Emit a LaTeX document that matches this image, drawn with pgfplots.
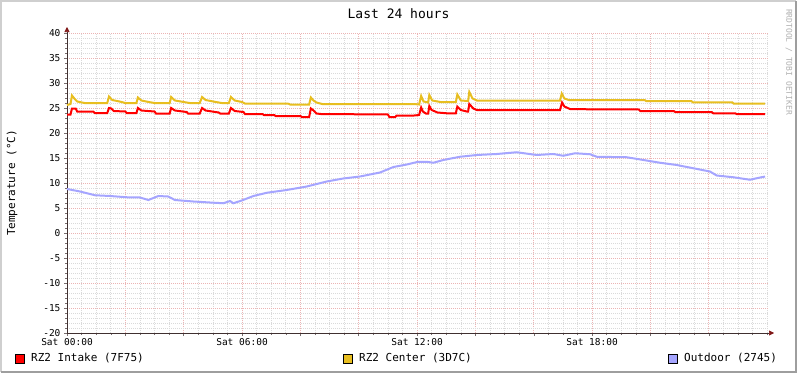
\documentclass[border=0pt]{standalone}
\usepackage{pgfplots}
\pgfplotsset{compat=1.18}
\usepackage{fontspec}
\setmainfont{DejaVu Sans Mono}
\usetikzlibrary{arrows.meta}
\definecolor{rrdred}{RGB}{255,0,0}
\definecolor{rrdyel}{RGB}{232,190,32}
\definecolor{rrdblue}{RGB}{165,165,255}
\definecolor{mgrid}{RGB}{236,180,180}
\definecolor{mingrid}{RGB}{218,218,218}
\definecolor{axcol}{RGB}{64,48,48}
\definecolor{arrcol}{RGB}{128,24,24}
\definecolor{shadea}{RGB}{207,207,207}
\definecolor{shadeb}{RGB}{158,158,158}
\begin{document}
\begin{tikzpicture}[x=1pt,y=1pt]
\fill[white] (-67,-40) rectangle (730,333);
\path[use as bounding box] (-67,-40) rectangle (730,333);
\begin{axis}[at={(0,0)}, anchor=south west, scale only axis,
  width=701pt, height=300pt,
  xmin=0, xmax=24.03, ymin=-20, ymax=40,
  axis x line=bottom, axis y line=left,
  axis line style={draw=axcol, line width=0.6pt},
  x axis line style={-{Triangle[length=5pt,width=5pt,color=arrcol]}, shorten >=-6pt},
  y axis line style={-{Triangle[length=5pt,width=5pt,color=arrcol]}, shorten >=-6pt},
  xtick={0,2,...,22},
  xticklabels={Sat 00:00,,,Sat 06:00,,,Sat 12:00,,,Sat 18:00,,},
  minor xtick={0,0.5,...,24},
  ytick={-20,-15,...,40},
  minor ytick={-20,-19,...,40},
  grid=both,
  major grid style={draw=mgrid, dash pattern=on 1pt off 1pt, line width=0.6pt},
  minor grid style={draw=mingrid, dash pattern=on 1pt off 1pt, line width=0.6pt},
  tick align=outside,
  major tick length=3pt, minor tick length=2pt,
  tick style={draw=axcol!70, line width=0.5pt},
  /pgf/number format/assume math mode=true,
  ticklabel style={font=\fontsize{9.5}{10}\selectfont},
  xticklabel style={yshift=1pt},
  clip=false,
]
\addplot[rrdred, line width=2pt, line join=miter] coordinates {
(0,23.7) (0.12,23.7) (0.17,24.9) (0.3,24.9) (0.35,24.3) (0.9,24.3) (0.95,24.0) (1.38,24.0)
(1.44,25.0) (1.52,24.9) (1.6,24.4) (2.0,24.3) (2.05,24.0) (2.38,24.0) (2.43,25.0) (2.55,24.5)
(3.0,24.3) (3.05,23.9) (3.52,23.9) (3.57,25.0) (3.7,24.5) (4.1,24.2) (4.15,23.9) (4.55,23.9)
(4.63,25.0) (4.75,24.5) (5.2,24.1) (5.25,23.9) (5.55,23.9) (5.62,25.0) (5.75,24.4) (6.05,24.2)
(6.1,23.8) (6.7,23.8) (6.75,23.6) (7.1,23.6) (7.15,23.4) (8.0,23.4) (8.05,23.2) (8.3,23.2)
(8.36,24.9) (8.45,24.5) (8.55,23.9) (8.7,23.8) (11.0,23.7) (11.05,23.2) (11.25,23.2) (11.3,23.5)
(11.9,23.5) (12.07,23.6) (12.14,25.1) (12.2,24.3) (12.3,23.9) (12.38,23.9) (12.42,25.4) (12.5,24.6)
(12.7,24.1) (13.0,23.95) (13.33,23.95) (13.38,25.3) (13.5,24.6) (13.7,24.3) (13.75,24.3) (13.79,25.8)
(13.93,24.9) (14.05,24.6) (16.9,24.6) (16.97,26.1) (17.05,25.3) (17.24,24.8) (17.8,24.75) (19.6,24.7)
(19.65,24.4) (20.8,24.4) (20.85,24.2) (22.1,24.2) (22.15,23.95) (22.9,23.95) (22.95,23.8) (23.93,23.8)
};
\addplot[rrdyel, line width=2pt, line join=miter] coordinates {
(0,25.6) (0.12,25.8) (0.17,27.5) (0.25,26.9) (0.35,26.3) (0.6,26.0) (1.38,26.0) (1.44,27.3)
(1.55,26.6) (1.8,26.3) (2.0,26.0) (2.38,26.0) (2.43,27.1) (2.55,26.5) (2.8,26.2) (3.0,26.0)
(3.52,26.0) (3.57,27.2) (3.7,26.5) (4.0,26.2) (4.2,26.0) (4.55,26.0) (4.63,27.2) (4.75,26.6)
(5.1,26.2) (5.3,26.0) (5.55,26.0) (5.62,27.2) (5.75,26.5) (6.0,26.2) (6.1,25.9) (7.6,25.85)
(7.65,25.7) (8.3,25.7) (8.36,27.1) (8.45,26.5) (8.55,26.1) (8.75,25.8) (11.9,25.8) (12.07,25.7)
(12.14,27.4) (12.22,26.3) (12.38,26.1) (12.42,27.6) (12.52,26.5) (12.8,26.2) (13.33,26.2) (13.38,27.7)
(13.5,26.5) (13.75,26.4) (13.79,28.2) (13.9,26.9) (14.05,26.5) (16.9,26.5) (16.96,27.9) (17.05,26.9)
(17.2,26.6) (19.8,26.6) (19.85,26.4) (21.4,26.4) (21.45,26.15) (22.8,26.15) (22.85,25.9) (23.93,25.9)
};
\addplot[rrdblue, line width=2pt] coordinates {
(0,8.8) (0.45,8.3) (0.96,7.55) (1.47,7.4) (2.05,7.15) (2.5,7.1) (2.79,6.6) (3.13,7.4)
(3.47,7.3) (3.70,6.6) (4.33,6.3) (4.90,6.1) (5.36,5.95) (5.59,6.4) (5.70,5.95) (5.99,6.5)
(6.39,7.4) (6.85,8.05) (7.53,8.6) (8.22,9.3) (8.90,10.3) (9.47,10.9) (10.04,11.3) (10.73,12.1)
(11.19,13.2) (11.65,13.7) (12.04,14.25) (12.33,14.25) (12.56,14.05) (12.90,14.6) (13.47,15.25) (14.05,15.6)
(14.73,15.8) (15.42,16.15) (16.10,15.6) (16.67,15.8) (17.01,15.45) (17.42,15.95) (17.93,15.75) (18.16,15.25)
(19.19,15.15) (19.76,14.6) (20.33,14.05) (20.90,13.6) (21.47,12.95) (22.04,12.3) (22.27,11.5) (22.84,11.15)
(23.41,10.65) (23.64,10.95) (23.93,11.3)
};
\end{axis}
% title, labels, legend, watermark (pixel (px,py) -> (px-67, 333-py))
\node[font=\fontsize{13}{14}\selectfont] at (331.5,319) {Last 24 hours};
\node[rotate=90, font=\fontsize{11}{12}\selectfont] at (-55,150) {Temperature (°C)};
\node[rotate=-90, font=\fontsize{8}{9}\selectfont, text=shadeb!80] at (722,271) {RRDTOOL / TOBI OETIKER};
\draw[fill=rrdred, draw=black, line width=0.8pt] (-52,-30) rectangle (-43,-21);
\node[anchor=west, inner sep=0pt, font=\fontsize{11}{12}\selectfont] at (-36,-25.5) {RZ2 Intake (7F75)};
\draw[fill=rrdyel, draw=black, line width=0.8pt] (276,-30) rectangle (285,-21);
\node[anchor=west, inner sep=0pt, font=\fontsize{11}{12}\selectfont] at (292,-25.5) {RZ2 Center (3D7C)};
\draw[fill=rrdblue, draw=black, line width=0.8pt] (601,-30) rectangle (610,-21);
\node[anchor=west, inner sep=0pt, font=\fontsize{11}{12}\selectfont] at (617,-25.5) {Outdoor (2745)};
% frame
\draw[shadea, line width=2pt] (-66,-39) -- (-66,332) -- (729,332);
\draw[shadeb, line width=2pt] (-66,-39) -- (729,-39) -- (729,332);
\end{tikzpicture}
\end{document}
